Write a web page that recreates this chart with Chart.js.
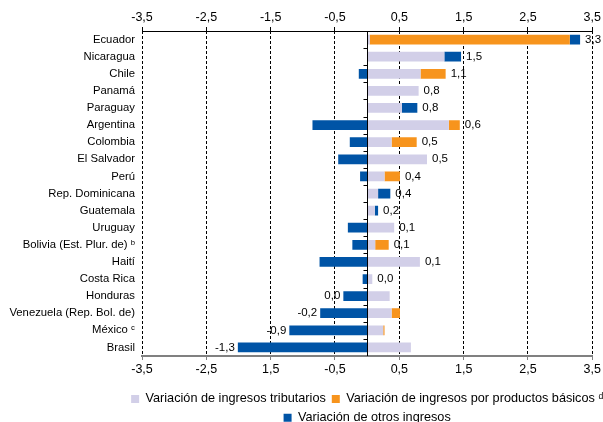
<!DOCTYPE html>
<html>
<head>
<meta charset="utf-8">
<script src="https://cdn.jsdelivr.net/npm/chart.js@4.4.0/dist/chart.umd.min.js"></script>
<style>
  body { margin: 0; background: #fff; }
  #wrap { width: 603px; height: 422px; }
</style>
</head>
<body>
<div id="wrap"><canvas id="chart"></canvas></div>
<script>
// Data
const categories = ['Ecuador', 'Nicaragua', 'Chile', 'Panamá', 'Paraguay', 'Argentina', 'Colombia',
    'El Salvador', 'Perú', 'Rep. Dominicana', 'Guatemala', 'Uruguay', 'Bolivia (Est. Plur. de) ᵇ',
    'Haití', 'Costa Rica', 'Honduras', 'Venezuela (Rep. Bol. de)', 'México ᶜ', 'Brasil'];
const tributarios = [0.04, 1.20, 0.83, 0.80, 0.54, 1.27, 0.38, 0.93, 0.27, 0.17, 0.12, 0.42, 0.125,
    0.82, 0.08, 0.35, 0.38, 0.25, 0.68];
const basicos = [3.11, 0, 0.39, 0, 0, 0.17, 0.39, 0, 0.24, 0, 0, 0, 0.21, 0, 0, 0, 0.13, 0.02, 0];
const otros = [0.16, 0.26, -0.13, 0, 0.24, -0.85, -0.27, -0.45, -0.11, 0.19, 0.05, -0.30, -0.23,
    -0.74, -0.07, -0.37, -0.73, -1.21, -2.01];
const totals = [3.3, 1.5, 1.1, 0.8, 0.8, 0.6, 0.5, 0.5, 0.4, 0.4, 0.2, 0.1, 0.1, 0.1, 0.0, 0.0, -0.2, -0.9, -1.3];
const tickValues = [-3.5, -2.5, -1.5, -0.5, 0.5, 1.5, 2.5, 3.5];
const topTickLabels = ['-3,5', '-2,5', '-1,5', '-0,5', '0,5', '1,5', '2,5', '3,5'];
const bottomTickLabels = ['-3,5', '-2,5', '1,5', '-0,5', '0,5', '1,5', '2,5', '3,5'];

const FONT = '"Liberation Sans", Arial, sans-serif';
Chart.defaults.font.family = FONT;
Chart.defaults.font.size = 11;
Chart.defaults.color = '#000';

function fmt(v) {
    return v.toFixed(1).replace('.', ',');
}

// zero line with small marks between categories
const zeroLine = {
    id: 'zeroLine',
    afterDatasetsDraw(chart) {
        const ctx = chart.ctx;
        const x = chart.scales.x;
        const y = chart.scales.y;
        const area = chart.chartArea;
        const x0 = Math.round(x.getPixelForValue(0)) + 0.5;
        ctx.save();
        ctx.strokeStyle = '#000';
        ctx.lineWidth = 1;
        ctx.beginPath();
        ctx.moveTo(x0, area.top);
        ctx.lineTo(x0, area.bottom);
        for (let i = 1; i < categories.length; i++) {
            const yb = Math.round((y.getPixelForValue(i - 1) + y.getPixelForValue(i)) / 2) + 0.5;
            ctx.moveTo(x0 - 4, yb);
            ctx.lineTo(x0, yb);
        }
        ctx.stroke();
        ctx.restore();
    }
};

// total labels next to the bars
const totalLabels = {
    id: 'totalLabels',
    afterDatasetsDraw(chart) {
        const ctx = chart.ctx;
        const x = chart.scales.x;
        const y = chart.scales.y;
        ctx.save();
        ctx.font = '11.5px ' + FONT;
        ctx.fillStyle = '#000';
        ctx.textBaseline = 'middle';
        categories.forEach((c, i) => {
            const parts = [tributarios[i], basicos[i], otros[i]];
            let pos = 0, neg = 0;
            parts.forEach(v => { if (v > 0) pos += v; else neg += v; });
            const yc = y.getPixelForValue(i);
            if (pos + neg >= 0) {
                ctx.textAlign = 'left';
                ctx.fillText(fmt(totals[i]), x.getPixelForValue(pos) + 5, yc);
            } else {
                ctx.textAlign = 'right';
                ctx.fillText(fmt(totals[i]), x.getPixelForValue(neg) - 3, yc);
            }
        });
        ctx.restore();
    }
};

// center legend under the plot area
const legendShift = {
    id: 'legendShift',
    afterLayout(chart) {
        const lg = chart.legend;
        const shift = (chart.chartArea.left + chart.chartArea.right) / 2 - (lg.left + lg.right) / 2;
        lg.left += shift;
        lg.right += shift;
    }
};

function setTicks(scale) {
    scale.ticks = tickValues.map(v => ({ value: v }));
}

new Chart(document.getElementById('chart'), {
    type: 'bar',
    data: {
        labels: categories,
        datasets: [
            { label: 'Variación de ingresos tributarios', data: tributarios, backgroundColor: '#d2cfe8' },
            { label: 'Variación de ingresos por productos básicos ᵈ', data: basicos, backgroundColor: '#f7941d' },
            { label: 'Variación de otros ingresos', data: otros, backgroundColor: '#0054a6' }
        ]
    },
    options: {
        indexAxis: 'y',
        responsive: true,
        maintainAspectRatio: false,
        animation: false,
        layout: { padding: { top: 8, left: 0, right: 0, bottom: 0 } },
        datasets: {
            bar: { barPercentage: 0.57, categoryPercentage: 1, borderWidth: 0 }
        },
        plugins: {
            tooltip: { enabled: false },
            legend: {
                position: 'bottom',
                maxHeight: 35.4,
                labels: {
                    boxWidth: 8,
                    boxHeight: 8,
                    padding: 6,
                    color: '#000',
                    font: { size: 12.7 }
                }
            }
        },
        scales: {
            x: {
                type: 'linear',
                position: 'bottom',
                stacked: true,
                min: -3.5,
                max: 3.5,
                afterBuildTicks: setTicks,
                afterFit(scale) { scale.height += 7.6; },
                grid: {
                    color: '#000',
                    lineWidth: 1,
                    drawTicks: true,
                    tickLength: 4,
                    tickColor: '#808080',
                    tickBorderDash: []
                },
                border: { display: true, color: '#808080', width: 2, dash: [3, 2] },
                ticks: {
                    padding: 2,
                    color: '#000',
                    maxRotation: 0,
                    font: { size: 12.5 },
                    callback: (v, i) => bottomTickLabels[i]
                }
            },
            x2: {
                type: 'linear',
                position: 'top',
                min: -3.5,
                max: 3.5,
                afterBuildTicks: setTicks,
                grid: {
                    drawOnChartArea: false,
                    drawTicks: true,
                    tickLength: 4,
                    tickColor: '#000'
                },
                border: { display: true, color: '#000', width: 1 },
                ticks: {
                    padding: 2,
                    color: '#000',
                    maxRotation: 0,
                    font: { size: 12.5 },
                    callback: (v, i) => topTickLabels[i]
                }
            },
            y: {
                stacked: true,
                afterFit(scale) { scale.width = 142; },
                grid: { display: false, drawTicks: false },
                border: { display: false },
                ticks: { padding: 7, color: '#000', autoSkip: false, font: { size: 11.3 } }
            }
        }
    },
    plugins: [zeroLine, totalLabels, legendShift]
});
</script>
</body>
</html>
